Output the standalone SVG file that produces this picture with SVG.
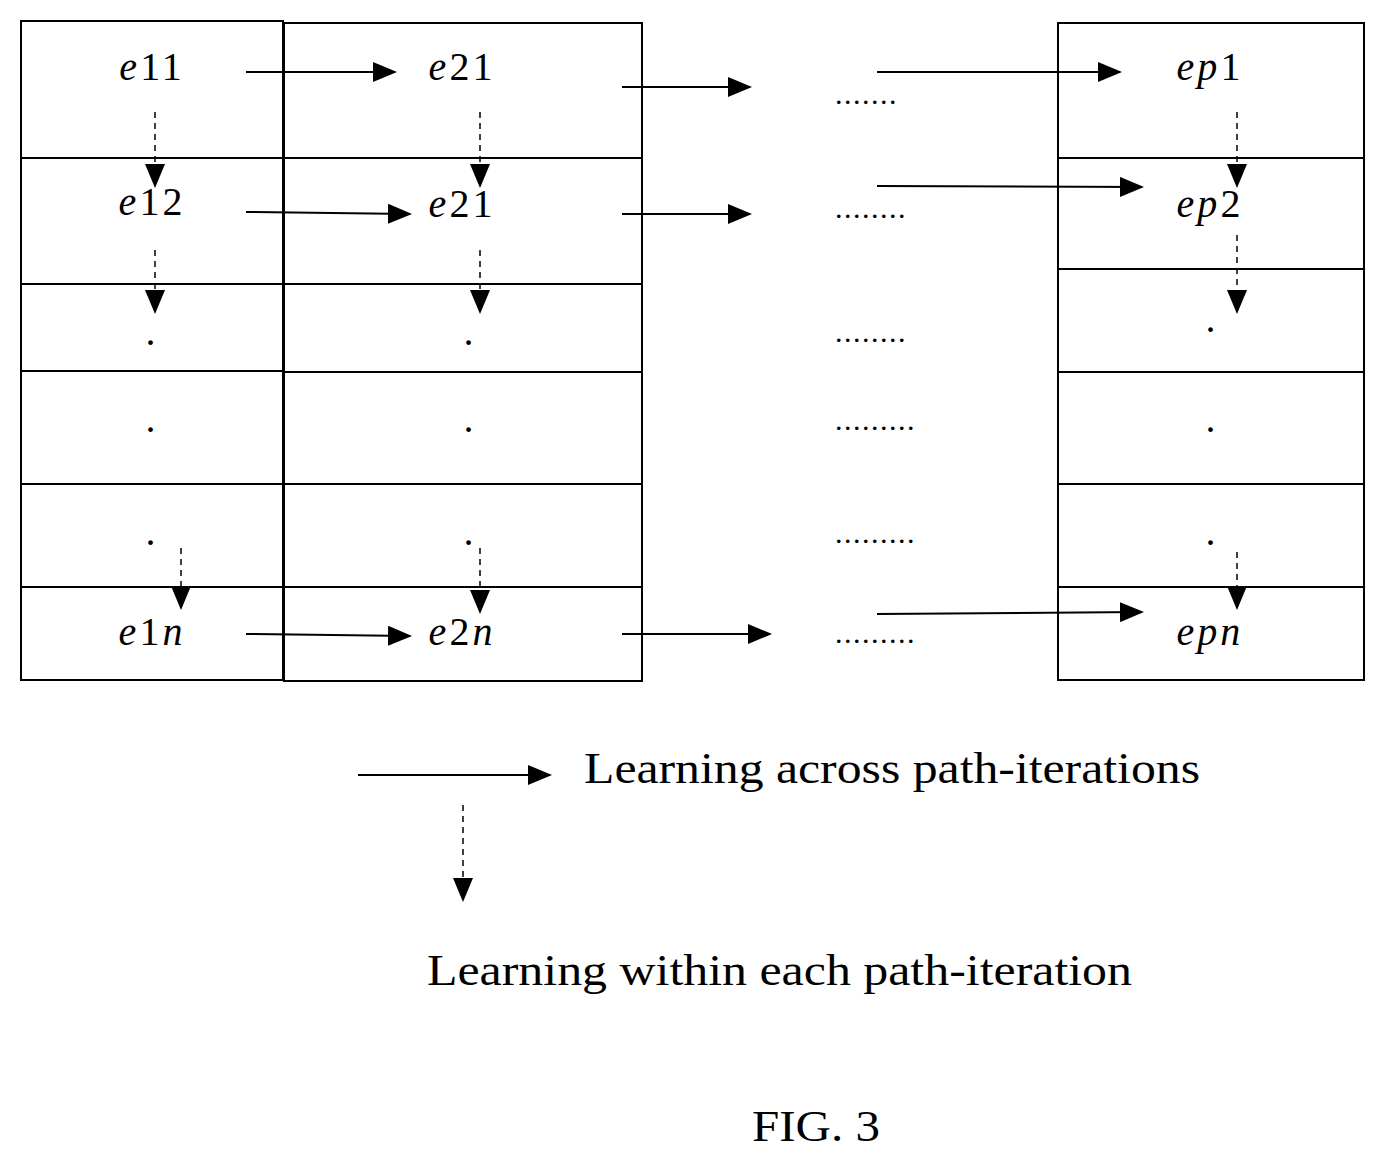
<svg xmlns="http://www.w3.org/2000/svg" width="1385" height="1155" viewBox="0 0 1385 1155">
<style>
.b{fill:none;stroke:#000;stroke-width:2}
.a{stroke:#000;stroke-width:2;fill:none;marker-end:url(#h)}
.d{stroke:#000;stroke-width:1.5;stroke-dasharray:6,5;fill:none;marker-end:url(#h)}
.t{font-family:"Liberation Serif",serif;font-size:40px;letter-spacing:3px;text-anchor:middle}
.t tspan.i{font-style:italic}
.l{font-family:"Liberation Serif",serif;font-size:44px}
.dt{font-family:"Liberation Serif",serif;font-size:30px;letter-spacing:1.5px}
</style>
<defs><marker id="h" markerWidth="24" markerHeight="20" refX="22" refY="10" orient="auto" markerUnits="userSpaceOnUse"><path d="M0,0L24,10L0,20Z"/></marker></defs>
<g id="col1"><rect class="b" x="21" y="21" width="262" height="659"/><path class="b" d="M21 158H283M21 284H283M21 371H283M21 484H283M21 587H283"/>
<text class="t" x="152" y="80"><tspan class="i">e</tspan>11</text><text class="t" x="152" y="215"><tspan class="i">e</tspan>12</text>
<text class="t" x="152" y="345">.</text><text class="t" x="152" y="432">.</text><text class="t" x="152" y="545">.</text>
<text class="t" x="152" y="645"><tspan class="i">e</tspan>1<tspan class="i">n</tspan></text></g>
<g id="col2"><rect class="b" x="284" y="23" width="358" height="658"/><path class="b" d="M284 158H642M284 284H642M284 372H642M284 484H642M284 587H642"/>
<text class="t" x="462" y="80"><tspan class="i">e</tspan>21</text><text class="t" x="462" y="217"><tspan class="i">e</tspan>21</text>
<text class="t" x="470" y="345">.</text><text class="t" x="470" y="432">.</text><text class="t" x="470" y="545">.</text>
<text class="t" x="462" y="645"><tspan class="i">e</tspan>2<tspan class="i">n</tspan></text></g>
<g id="colp"><rect class="b" x="1058" y="23" width="306" height="657"/><path class="b" d="M1058 158H1364M1058 269H1364M1058 372H1364M1058 484H1364M1058 587H1364"/>
<text class="t" x="1210" y="80"><tspan class="i">ep</tspan>1</text><text class="t" x="1210" y="217"><tspan class="i">ep</tspan>2</text>
<text class="t" x="1212" y="332">.</text><text class="t" x="1212" y="432">.</text><text class="t" x="1212" y="545">.</text>
<text class="t" x="1210" y="645"><tspan class="i">epn</tspan></text></g>
<g id="dots" class="dt"><text x="835" y="104">.......</text><text x="835" y="218">........</text><text x="835" y="342">........</text><text x="835" y="430">.........</text><text x="835" y="543">.........</text><text x="835" y="643">.........</text></g>
<g id="connectors">
<path class="a" d="M246 72H395"/><path class="a" d="M622 87H750"/><path class="a" d="M877 72H1120"/>
<path class="a" d="M246 212L410 214"/><path class="a" d="M622 214H750"/><path class="a" d="M877 186L1142 187"/>
<path class="a" d="M246 634L410 636"/><path class="a" d="M622 634H770"/><path class="a" d="M877 614L1142 612"/>
<path class="d" d="M155 112V186"/><path class="d" d="M155 250V312"/><path class="d" d="M181 548V608"/>
<path class="d" d="M480 112V186"/><path class="d" d="M480 250V312"/><path class="d" d="M480 548V612"/>
<path class="d" d="M1237 112V186"/><path class="d" d="M1237 235V312"/><path class="d" d="M1237 552V608"/>
<path class="a" d="M358 775H550"/><path class="d" d="M463 805V900"/>
</g>
<g id="legend"><text class="l" x="584" y="783" textLength="616" lengthAdjust="spacingAndGlyphs">Learning across path-iterations</text><text class="l" x="427" y="985" textLength="705" lengthAdjust="spacingAndGlyphs">Learning within each path-iteration</text><text class="l" x="752" y="1141" textLength="128" lengthAdjust="spacingAndGlyphs">FIG. 3</text></g>
</svg>
